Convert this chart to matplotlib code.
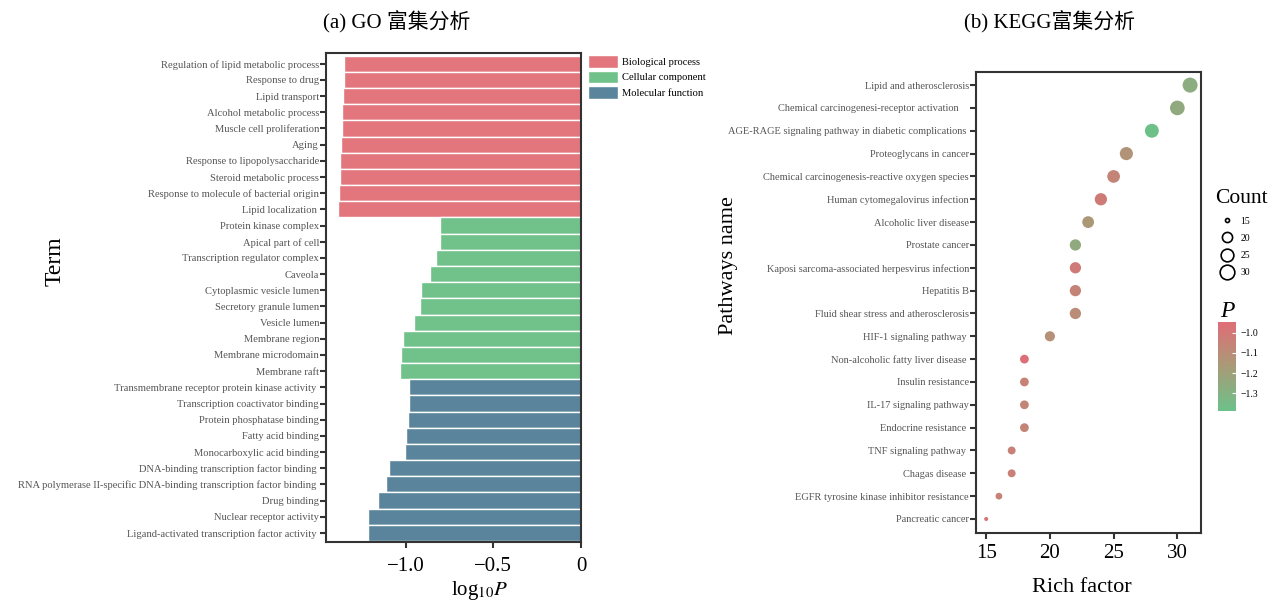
import numpy as np
import matplotlib
matplotlib.use("Agg")
import matplotlib.pyplot as plt
from matplotlib.colors import LinearSegmentedColormap
from matplotlib.patches import Patch
from matplotlib.lines import Line2D

plt.rcParams['font.family'] = ['Liberation Serif', 'Noto Sans CJK SC']
plt.rcParams['mathtext.fontset'] = 'stix'

# ---- GO data ----
go_terms = [
    "Regulation of lipid metabolic process", "Response to drug", "Lipid transport",
    "Alcohol metabolic process", "Muscle cell proliferation", "Aging",
    "Response to lipopolysaccharide", "Steroid metabolic process",
    "Response to molecule of bacterial origin", "Lipid localization ",
    "Protein kinase complex", "Apical part of cell", "Transcription regulator complex",
    "Caveola", "Cytoplasmic vesicle lumen", "Secretory granule lumen", "Vesicle lumen",
    "Membrane region", "Membrane microdomain", "Membrane raft",
    "Transmembrane receptor protein kinase activity ", "Transcription coactivator binding",
    "Protein phosphatase binding", "Fatty acid binding", "Monocarboxylic acid binding",
    "DNA-binding transcription factor binding ",
    "RNA polymerase II-specific DNA-binding transcription factor binding ",
    "Drug binding", "Nuclear receptor activity", "Ligand-activated transcription factor activity ",
]
go_logp = [-1.351, -1.352, -1.356, -1.362, -1.366, -1.368, -1.377, -1.377, -1.381, -1.385,
           -0.806, -0.806, -0.825, -0.863, -0.912, -0.916, -0.952, -1.017, -1.029, -1.031,
           -0.979, -0.983, -0.989, -1.000, -1.002, -1.097, -1.111, -1.160, -1.214, -1.214]
go_cat = ["BP"] * 10 + ["CC"] * 10 + ["MF"] * 10
cat_names = {"BP": "Biological process", "CC": "Cellular component", "MF": "Molecular function"}
cat_colors = {"BP": "#e2767c", "CC": "#70c28a", "MF": "#5a849c"}

# ---- KEGG data ----
kegg_terms = [
    "Lipid and atherosclerosis", "Chemical carcinogenesi-receptor activation    ",
    "AGE-RAGE signaling pathway in diabetic complications ", "Proteoglycans in cancer",
    "Chemical carcinogenesis-reactive oxygen species", "Human cytomegalovirus infection",
    "Alcoholic liver disease", "Prostate cancer", "Kaposi sarcoma-associated herpesvirus infection",
    "Hepatitis B", "Fluid shear stress and atherosclerosis", "HIF-1 signaling pathway ",
    "Non-alcoholic fatty liver disease ", "Insulin resistance", "IL-17 signaling pathway",
    "Endocrine resistance ", "TNF signaling pathway ", "Chagas disease ",
    "EGFR tyrosine kinase inhibitor resistance", "Pancreatic cancer",
]
rich_factor = [31, 30, 28, 26, 25, 24, 23, 22, 22, 22, 22, 20, 18, 18, 18, 18, 17, 17, 16, 15]
counts = [31, 30, 28, 26, 25, 24, 23, 22, 22, 22, 22, 20, 18, 18, 18, 18, 17, 17, 16, 15]
kegg_p = [-1.27, -1.25, -1.38, -1.13, -1.06, -1.02, -1.15, -1.25, -1.02, -1.06,
          -1.10, -1.12, -0.96, -1.05, -1.07, -1.06, -1.04, -1.04, -1.05, -1.00]
count_ticks = [15, 20, 25, 30]
p_ticks = [-1.0, -1.1, -1.2, -1.3]

fig = plt.figure(figsize=(12.68, 6.03), dpi=100)

# ================= (a) GO =================
ax1 = fig.add_axes([0.2571, 0.1012, 0.2011, 0.811])
y1 = np.arange(len(go_terms))
ax1.barh(y1, go_logp, height=1.0, color=[cat_colors[c] for c in go_cat],
         edgecolor="white", linewidth=1.0)
ax1.set_ylim(29.56, -0.67)
ax1.set_xlim(-1.455, 0)
ax1.set_yticks(y1)
ax1.set_yticklabels(go_terms, fontsize=7.6, color="#555555")
ax1.set_xticks([-1.0, -0.5, 0])
ax1.set_xticklabels(["\u22121.0", "\u22120.5", "0"], fontsize=15)
ax1.set_xlabel(r"log$_{10}$$\it{P}$", fontsize=15)
ax1.xaxis.set_label_coords(0.604, -0.075)
ax1.set_ylabel("Term", fontsize=17)
ax1.yaxis.set_label_coords(-1.02, 0.575)
for s in ax1.spines.values():
    s.set_linewidth(1.5)
    s.set_color("#333333")
ax1.tick_params(axis="both", width=1.5, length=4, color="#333333", pad=1)
ax1.tick_params(axis="x", pad=7)

handles = [Patch(facecolor=cat_colors[k], edgecolor="white", label=cat_names[k]) for k in ["BP", "CC", "MF"]]
fig.legend(handles=handles, loc="upper left", bbox_to_anchor=(0.4637, 0.9088), frameon=False,
           fontsize=7.6, handlelength=2.8, handleheight=1.45, labelspacing=0.3,
           handletextpad=0.4, borderpad=0, borderaxespad=0)

fig.text(0.313, 0.963, "(a) GO 富集分析", fontsize=15, ha="center", va="center",
         family=['Liberation Serif', 'Noto Sans CJK SC'])

# ================= (b) KEGG =================
cmap = LinearSegmentedColormap.from_list("gr", ["#6cc18a", "#a89b77", "#e06c77"])
vmin, vmax = -1.387, -0.946


def dot_size(c):
    d = 2.9 + 7.9 * np.sqrt((np.asarray(c, dtype=float) - 15) / 16.0)
    return d ** 2


ax2 = fig.add_axes([0.7697, 0.1166, 0.1772, 0.7635])
y2 = np.arange(len(kegg_terms))
sc = ax2.scatter(rich_factor, y2, s=dot_size(counts), c=kegg_p, cmap=cmap,
                 vmin=vmin, vmax=vmax, edgecolors="none", zorder=3)
ax2.set_ylim(19.6, -0.56)
ax2.set_xlim(14.2, 31.83)
ax2.set_yticks(y2)
ax2.set_yticklabels(kegg_terms, fontsize=7.5, color="#555555")
ax2.set_xticks([15, 20, 25, 30])
ax2.tick_params(axis="x", labelsize=15)
ax2.set_xlabel("Rich factor", fontsize=16)
ax2.xaxis.set_label_coords(0.47, -0.099)
ax2.set_ylabel("Pathways name", fontsize=16)
ax2.yaxis.set_label_coords(-1.059, 0.581)
for s in ax2.spines.values():
    s.set_linewidth(1.5)
    s.set_color("#333333")
ax2.tick_params(axis="both", width=1.5, length=4, color="#333333", pad=1)
ax2.tick_params(axis="x", pad=4)

fig.text(0.828, 0.963, "(b) KEGG富集分析", fontsize=15, ha="center", va="center",
         family=['Liberation Serif', 'Noto Sans CJK SC'])

# size legend
size_handles = [Line2D([], [], linestyle="none", marker="o", markerfacecolor="none",
                       markeredgecolor="black", markeredgewidth=1.2,
                       markersize=2.9 + 7.9 * np.sqrt((c - 15) / 16.0), label=str(c))
                for c in count_ticks]
leg = fig.legend(handles=size_handles, loc="upper left", bbox_to_anchor=(0.958, 0.686),
                 frameon=False, fontsize=7, title="Count", title_fontsize=15.5,
                 handlelength=2.5, handletextpad=0.15, labelspacing=0.85,
                 borderpad=0, borderaxespad=0, alignment="left")

# colorbar
cax = fig.add_axes([0.9606, 0.3184, 0.0142, 0.148])
cb = fig.colorbar(sc, cax=cax, ticks=p_ticks)
cb.outline.set_visible(False)
cb.ax.set_yticklabels(["\u22121.0", "\u22121.1", "\u22121.2", "\u22121.3"], fontsize=7)
cb.ax.tick_params(length=3, width=0.8, color="white", direction="in", pad=3)
cb.ax.set_title("P", fontsize=17, style="italic", pad=2)

fig.savefig("out.png", dpi=100)
